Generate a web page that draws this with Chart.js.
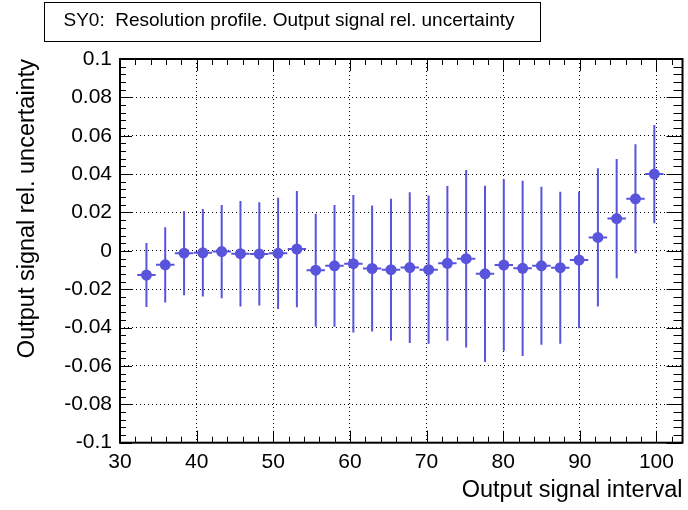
<!DOCTYPE html>
<html>
<head>
<meta charset="utf-8">
<script src="https://cdn.jsdelivr.net/npm/chart.js@4.4.1/dist/chart.umd.min.js"></script>
<style>
  html, body { margin: 0; padding: 0; background: #ffffff; }
  #wrap { width: 688px; height: 510px; position: relative; }
</style>
</head>
<body>
<div id="wrap"><canvas id="c" width="688" height="510"></canvas></div>
<script>
// Bin centres of the output signal intervals
const intervals = [33.45, 35.9, 38.36, 40.81, 43.27, 45.72, 48.18, 50.63, 53.08, 55.54,
                   57.99, 60.45, 62.9, 65.36, 67.81, 70.27, 72.72, 75.17, 77.63, 80.08,
                   82.54, 84.99, 87.45, 89.9, 92.36, 94.81, 97.26, 99.72];
// Mean relative uncertainty per interval
const relUncertainty = [-0.0126, -0.0073, -0.0012, -0.0010, -0.0004, -0.0015, -0.0016, -0.0013, 0.0009, -0.0101,
                        -0.0078, -0.0067, -0.0092, -0.0098, -0.0087, -0.0098, -0.0065, -0.0041, -0.0120, -0.0074,
                        -0.0091, -0.0078, -0.0088, -0.0048, 0.0070, 0.0168, 0.0271, 0.0400];
// Error on each mean
const relError = [0.0167, 0.0196, 0.0220, 0.0228, 0.0243, 0.0275, 0.0269, 0.0290, 0.0303, 0.0294,
                  0.0317, 0.0358, 0.0328, 0.0370, 0.0393, 0.0386, 0.0403, 0.0463, 0.0459, 0.0447,
                  0.0457, 0.0412, 0.0396, 0.0356, 0.0360, 0.0311, 0.0284, 0.0256];
const binHalfWidth = 1.2;

const xTicks = [30, 40, 50, 60, 70, 80, 90, 100];
const yTicks = [-0.1, -0.08, -0.06, -0.04, -0.02, 0, 0.02, 0.04, 0.06, 0.08, 0.1];
const yTickLabels = ['-0.1', '-0.08', '-0.06', '-0.04', '-0.02', '0', '0.02', '0.04', '0.06', '0.08', '0.1'];
const xMinorStep = 2;
const yMinorStep = 0.004;

const plotTitle = 'SY0:  Resolution profile. Output signal rel. uncertainty';
const xTitle = 'Output signal interval';
const yTitle = 'Output signal rel. uncertainty';

const markColor = '#5854dc';
const fontFamily = '"Liberation Sans", Arial, Helvetica, sans-serif';

// Error bars drawn behind the markers
const errorBars = {
  id: 'errorBars',
  beforeDatasetsDraw(chart) {
    const { ctx, scales: { x, y } } = chart;
    ctx.save();
    ctx.strokeStyle = markColor;
    ctx.lineWidth = 2;
    for (let i = 0; i < intervals.length; i++) {
      const px = x.getPixelForValue(intervals[i]);
      const py = y.getPixelForValue(relUncertainty[i]);
      ctx.beginPath();
      ctx.moveTo(px, y.getPixelForValue(relUncertainty[i] - relError[i]));
      ctx.lineTo(px, y.getPixelForValue(relUncertainty[i] + relError[i]));
      ctx.moveTo(x.getPixelForValue(intervals[i] - binHalfWidth), py);
      ctx.lineTo(x.getPixelForValue(intervals[i] + binHalfWidth), py);
      ctx.stroke();
    }
    ctx.restore();
  }
};

// Frame with inward ticks on all four sides, and the title box
const frameAndTicks = {
  id: 'frameAndTicks',
  afterDraw(chart) {
    const { ctx, chartArea: a, scales: { x, y } } = chart;
    ctx.save();
    ctx.strokeStyle = '#000';
    ctx.lineWidth = 1;
    ctx.beginPath();
    // x ticks (bottom and top)
    for (let v = x.min; v <= x.max + 1e-9; v += xMinorStep) {
      const px = Math.round(x.getPixelForValue(v)) + 0.5;
      const major = Math.abs(v / 10 - Math.round(v / 10)) < 1e-6;
      const lb = major ? 12 : 6;
      const lt = major ? 12 : 6;
      ctx.moveTo(px, a.bottom); ctx.lineTo(px, a.bottom - lb);
      ctx.moveTo(px, a.top); ctx.lineTo(px, a.top + lt);
    }
    // y ticks (left and right)
    for (let k = 0; k <= Math.round((y.max - y.min) / yMinorStep); k++) {
      const v = y.min + k * yMinorStep;
      const py = Math.round(y.getPixelForValue(v)) + 0.5;
      const major = k % 5 === 0;
      const ll = major ? 12 : 6;
      const lr = major ? 16 : 9;
      ctx.moveTo(a.left, py); ctx.lineTo(a.left + ll, py);
      ctx.moveTo(a.right, py); ctx.lineTo(a.right - lr, py);
    }
    ctx.stroke();
    ctx.lineWidth = 2;
    ctx.strokeRect(a.left, a.top, a.right - a.left, a.bottom - a.top);

    // title box
    ctx.lineWidth = 1;
    ctx.fillStyle = '#fff';
    ctx.fillRect(44.5, 2.5, 496, 39);
    ctx.strokeRect(44.5, 2.5, 496, 39);
    ctx.fillStyle = '#000';
    ctx.font = '19px ' + fontFamily;
    ctx.textAlign = 'center';
    ctx.textBaseline = 'middle';
    ctx.fillText(plotTitle, 289, 21);
    ctx.restore();
  }
};

new Chart(document.getElementById('c'), {
  type: 'scatter',
  data: {
    datasets: [{
      data: intervals.map((v, i) => ({ x: v, y: relUncertainty[i] })),
      backgroundColor: markColor,
      borderColor: markColor,
      pointRadius: 5.5,
      pointHoverRadius: 5.5,
      borderWidth: 0
    }]
  },
  options: {
    responsive: false,
    animation: false,
    events: [],
    layout: { padding: { top: 59, right: 1.5, left: 0, bottom: 0 } },
    plugins: { legend: { display: false }, tooltip: { enabled: false }, title: { display: false } },
    scales: {
      x: {
        type: 'linear',
        min: 30,
        max: 103.4,
        afterBuildTicks(scale) { scale.ticks = xTicks.map(v => ({ value: v })); },
        afterFit(scale) { scale.height = 67.3; },
        ticks: {
          callback: v => String(v),
          color: '#000',
          font: { family: fontFamily, size: 21 },
          padding: 7,
          maxRotation: 0,
          autoSkip: false
        },
        grid: { color: '#000', lineWidth: 1, drawTicks: false },
        border: { display: false, dash: [1, 3] },
        title: {
          display: true,
          text: xTitle,
          align: 'end',
          color: '#000',
          font: { family: fontFamily, size: 23.5 },
          padding: { top: 0, bottom: 5 }
        }
      },
      y: {
        type: 'linear',
        min: -0.1,
        max: 0.1,
        afterBuildTicks(scale) { scale.ticks = yTicks.map(v => ({ value: v })); },
        afterFit(scale) { scale.width = 120; },
        ticks: {
          callback: (v, i) => yTickLabels[i],
          color: '#000',
          font: { family: fontFamily, size: 21 },
          padding: 8,
          autoSkip: false
        },
        grid: { color: '#000', lineWidth: 1, drawTicks: false },
        border: { display: false, dash: [1, 3] },
        title: {
          display: true,
          text: yTitle,
          align: 'end',
          color: '#000',
          font: { family: fontFamily, size: 23.5 },
          padding: { top: 13, bottom: 0 }
        }
      }
    }
  },
  plugins: [errorBars, frameAndTicks]
});
</script>
</body>
</html>
